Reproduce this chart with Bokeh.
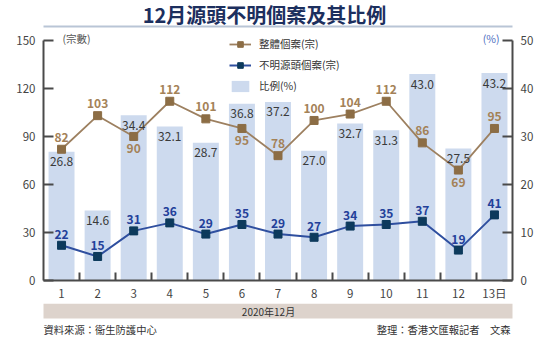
from bokeh.plotting import figure
from bokeh.layouts import column
from bokeh.models import (Range1d, LinearAxis, FixedTicker, Legend, LegendItem,
                          Label, BoxAnnotation)
from bokeh.embed import file_html
from bokeh.resources import INLINE
from bokeh.core.properties import value

# ---------------- data ----------------
days = list(range(1, 14))
x_labels = ["1", "2", "3", "4", "5", "6", "7", "8", "9", "10", "11", "12", "13日"]
total_cases = [82, 103, 90, 112, 101, 95, 78, 100, 104, 112, 86, 69, 95]
unknown_cases = [22, 15, 31, 36, 29, 35, 29, 27, 34, 35, 37, 19, 41]
unknown_ratio = [26.8, 14.6, 34.4, 32.1, 28.7, 36.8, 37.2, 27.0, 32.7, 31.3, 43.0, 27.5, 43.2]
left_ticks = [0, 30, 60, 90, 120, 150]
right_ticks = [0, 10, 20, 30, 40, 50]
total_label_below_days = [3, 6, 12]

CJK = "Noto Sans CJK TC"
NUM = "'Liberation Sans Narrow', 'Noto Sans CJK TC', sans-serif"
BROWN_LINE = "#9d8060"
BROWN_MARK = "#8c6d45"
BROWN_TEXT = "#a48258"
BLUE_LINE = "#2f4f9f"
BLUE_MARK = "#0d3a5c"
BLUE_TEXT = "#23409a"
BAR = "#cddaee"
AXIS = "#4a4a4a"

W = 550
HEADER_H = 32
MAIN_H = 303 - HEADER_H
FOOTER_H = 42
FL, FR, FB = 43, 512, 282  # frame left / right / bottom in canvas pixels
PX_PER_UNIT = (282 - 40) / 150.0
Y_TOP = 150 + (40 - HEADER_H) / PX_PER_UNIT


def blank(height):
    # frame aligned with the main chart; data x equals canvas x
    f = figure(width=W, height=height, output_backend="svg", toolbar_location=None,
               x_range=Range1d(FL, FR), y_range=Range1d(0, height),
               x_axis_type=None, y_axis_type=None,
               min_border_left=FL, min_border_right=W - FR, min_border_top=0,
               min_border_bottom=0)
    f.grid.visible = False
    f.outline_line_color = None
    f.background_fill_color = "white"
    f.border_fill_color = "white"
    return f


# ---------------- header ----------------
header = blank(HEADER_H)
header.add_layout(BoxAnnotation(left=7, right=W, top=HEADER_H - 25, bottom=HEADER_H - 27,
                                fill_color="#b9c5d6", fill_alpha=1, line_color=None,
                                level="underlay"))
header.text(x=[264], y=[HEADER_H - 14], text=["12月源頭不明個案及其比例"],
            text_align="center", text_baseline="middle", text_font=value(CJK),
            text_font_size="20px", text_font_style="bold", text_color="#1c2f5e")

# ---------------- main chart ----------------
p = figure(width=W, height=MAIN_H, output_backend="svg", toolbar_location=None,
           x_range=Range1d(0.5, 13.5), y_range=Range1d(0, Y_TOP),
           min_border_left=FL, min_border_right=W - FR, min_border_top=0,
           min_border_bottom=HEADER_H + MAIN_H - FB)
p.extra_y_ranges = {"pct": Range1d(0, Y_TOP / 3.0)}
p.grid.visible = False
p.outline_line_color = None
p.background_fill_color = "white"
p.border_fill_color = "white"

bars = p.vbar(x=days, top=unknown_ratio, width=0.72, y_range_name="pct",
              fill_color=BAR, line_color=None)

tl = p.line(days, total_cases, line_color=BROWN_LINE, line_width=1.8)
ts = p.scatter(days, total_cases, marker="square", size=8,
               fill_color=BROWN_MARK, line_color=BROWN_MARK)
ul = p.line(days, unknown_cases, line_color=BLUE_LINE, line_width=2)
us = p.scatter(days, unknown_cases, marker="square", size=8,
               fill_color=BLUE_MARK, line_color=BLUE_MARK)

# bar labels
p.text(x=days, y=unknown_ratio, text=[f"{v:.1f}" for v in unknown_ratio],
       y_range_name="pct", text_align="center", text_baseline="middle", y_offset=10,
       text_font=value(NUM), text_font_size="12px", text_color="#3a3a3a")

# total labels
above_x = [d for d in days if d not in total_label_below_days]
above_y = [total_cases[d - 1] for d in above_x]
below_x = [d for d in days if d in total_label_below_days]
below_y = [total_cases[d - 1] for d in below_x]
p.text(x=above_x, y=above_y, text=[str(v) for v in above_y], text_align="center",
       text_baseline="middle", y_offset=-12, text_font=value(NUM), text_font_size="12px",
       text_font_style="bold", text_color=BROWN_TEXT)
p.text(x=below_x, y=below_y, text=[str(v) for v in below_y], text_align="center",
       text_baseline="middle", y_offset=12, text_font=value(NUM), text_font_size="12px",
       text_font_style="bold", text_color=BROWN_TEXT)

# unknown labels
p.text(x=days, y=unknown_cases, text=[str(v) for v in unknown_cases], text_align="center",
       text_baseline="middle", y_offset=-11, text_font=value(NUM), text_font_size="12px",
       text_font_style="bold", text_color=BLUE_TEXT)

# axes
la = p.yaxis[0]
la.ticker = FixedTicker(ticks=left_ticks)
la.bounds = (left_ticks[0], left_ticks[-1])

ra = LinearAxis(y_range_name="pct", ticker=FixedTicker(ticks=right_ticks),
                bounds=(right_ticks[0], right_ticks[-1]))
p.add_layout(ra, "right")

for ax in (la, ra):
    ax.major_tick_in = 10
    ax.major_tick_out = 0
    ax.minor_tick_in = 0
    ax.minor_tick_out = 0
    ax.axis_line_width = 2
    ax.axis_line_color = AXIS
    ax.major_tick_line_width = 2
    ax.major_tick_line_color = AXIS
    ax.major_label_text_font = NUM
    ax.major_label_text_font_size = "11.5px"
    ax.major_label_text_color = "#444444"
    ax.major_label_standoff = 8

xa = p.xaxis[0]
xa.ticker = FixedTicker(ticks=days, minor_ticks=[d + 0.5 for d in days[:-1]])
xa.major_label_overrides = {d: lab for d, lab in zip(days, x_labels)}
xa.major_tick_in = 0
xa.major_tick_out = 0
xa.minor_tick_in = 8
xa.minor_tick_out = 0
xa.minor_tick_line_width = 2
xa.minor_tick_line_color = AXIS
xa.axis_line_width = 2
xa.axis_line_color = AXIS
xa.major_label_text_font = NUM
xa.major_label_text_font_size = "11.5px"
xa.major_label_text_color = "#444444"
xa.major_label_standoff = 4

# legend
legend = Legend(items=[
    LegendItem(label="整體個案(宗)", renderers=[tl, ts]),
    LegendItem(label="不明源頭個案(宗)", renderers=[ul, us]),
    LegendItem(label="比例(%)", renderers=[bars]),
], location=(229 - FL, FB - 95), orientation="vertical",
    label_text_font=CJK, label_text_font_size="10.5px", label_text_color="#333333",
    glyph_width=22, glyph_height=14, label_height=14, spacing=6, padding=0, margin=0,
    label_standoff=8, border_line_color=None, background_fill_alpha=0)
p.add_layout(legend, "center")

# unit labels
p.add_layout(Label(x=62 - FL, y=FB - 40, x_units="screen", y_units="screen",
                   text="(宗數)", text_align="left", text_baseline="middle",
                   text_font=CJK, text_font_size="10.5px", text_color="#555555"))
p.add_layout(Label(x=499 - FL, y=FB - 40, x_units="screen", y_units="screen",
                   text="(%)", text_align="right", text_baseline="middle",
                   text_font=CJK, text_font_size="10.5px", text_color="#4a6cc0"))

# ---------------- footer ----------------
footer = blank(FOOTER_H)
F0 = HEADER_H + MAIN_H  # canvas y of footer top
footer.add_layout(BoxAnnotation(left=42, right=514, top=FOOTER_H - (303 - F0),
                                bottom=FOOTER_H - (318 - F0),
                                fill_color="#ddd3cc", fill_alpha=1, line_color=None,
                                level="underlay"))
footer.text(x=[268], y=[FOOTER_H - (311 - F0)], text=["2020年12月"],
            text_align="center", text_baseline="middle",
            text_font=value(CJK), text_font_size="10px", text_color="#333333")
footer.text(x=[FL], y=[FOOTER_H - (329 - F0)], text=["資料來源：衞生防護中心"],
            text_align="left", text_baseline="middle",
            text_font=value(CJK), text_font_size="10.3px", text_color="#333333")
footer.text(x=[510], y=[FOOTER_H - (329 - F0)], text=["整理：香港文匯報記者　文森"],
            text_align="right", text_baseline="middle",
            text_font=value(CJK), text_font_size="10.3px", text_color="#333333")

layout = column(header, p, footer, spacing=0)
open("out.html", "w").write(file_html(layout, INLINE))
